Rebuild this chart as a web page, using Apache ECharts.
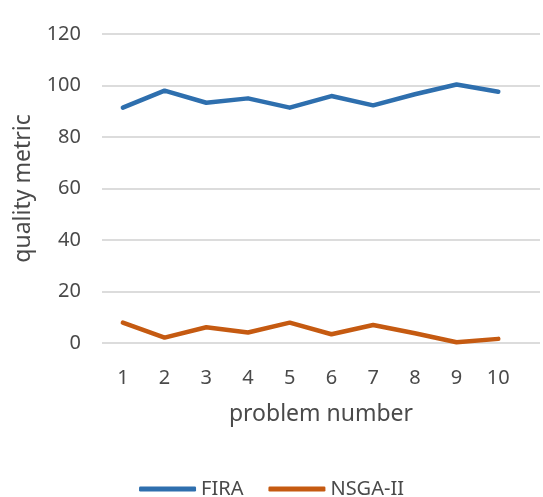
<!DOCTYPE html>
<html>
<head>
<meta charset="utf-8">
<script src="https://cdn.jsdelivr.net/npm/echarts@6/dist/echarts.min.js"></script>
<style>html,body{margin:0;padding:0;background:#fff}#chart{width:543px;height:497px}</style>
</head>
<body>
<div id="chart"></div>
<script>
// Problem numbers and the quality metric each algorithm reached
const problems = [1, 2, 3, 4, 5, 6, 7, 8, 9, 10];
const fira = [91.4, 98.0, 93.3, 95.0, 91.4, 95.9, 92.3, 96.6, 100.4, 97.6];
const nsga2 = [7.9, 2.1, 6.1, 4.1, 7.9, 3.4, 7.0, 3.8, 0.3, 1.6];
const yTicks = [0, 20, 40, 60, 80, 100, 120];

const pairs = vals => problems.map((p, i) => [p, vals[i]]);
const font = '"Noto Sans", sans-serif';
const textColor = '#4a4a4a';

const chart = echarts.init(document.getElementById('chart'), null, { renderer: 'canvas' });
chart.setOption({
  animation: false,
  grid: { left: 102, right: 0, top: 34, bottom: 154 },
  xAxis: {
    type: 'value',
    min: 0.5,
    max: 11,
    interval: 0.5,
    name: 'problem number',
    nameLocation: 'middle',
    nameGap: 60,
    nameTextStyle: { color: textColor, fontSize: 23, fontFamily: font },
    axisLine: { show: false },
    axisTick: { show: false },
    splitLine: { show: false },
    axisLabel: {
      color: textColor, fontSize: 20, fontFamily: font, margin: 25,
      formatter: v => (Number.isInteger(v) && problems.includes(v)) ? String(v) : ''
    }
  },
  yAxis: {
    type: 'value',
    min: yTicks[0],
    max: yTicks[yTicks.length - 1],
    interval: 20,
    name: 'quality metric',
    nameLocation: 'middle',
    nameGap: 67,
    nameTextStyle: { color: textColor, fontSize: 23, fontFamily: font },
    axisLine: { show: false },
    axisTick: { show: false },
    splitLine: { lineStyle: { color: '#d0d0d0', width: 1.5 } },
    axisLabel: { color: textColor, fontSize: 20, fontFamily: font, margin: 21 }
  },
  legend: {
    top: 474,
    left: 'center',
    itemWidth: 57,
    itemHeight: 5,
    itemGap: 25,
    icon: 'roundRect',
    textStyle: { color: textColor, fontSize: 20, fontFamily: font },
    data: ['FIRA', 'NSGA-II']
  },
  series: [
    {
      name: 'FIRA', type: 'line', data: pairs(fira),
      symbol: 'none', color: '#2E6FAE',
      lineStyle: { width: 4.5, color: '#2E6FAE', cap: 'round', join: 'round' }
    },
    {
      name: 'NSGA-II', type: 'line', data: pairs(nsga2),
      symbol: 'none', color: '#C55A11',
      lineStyle: { width: 4.5, color: '#C55A11', cap: 'round', join: 'round' }
    }
  ]
});
</script>
</body>
</html>
